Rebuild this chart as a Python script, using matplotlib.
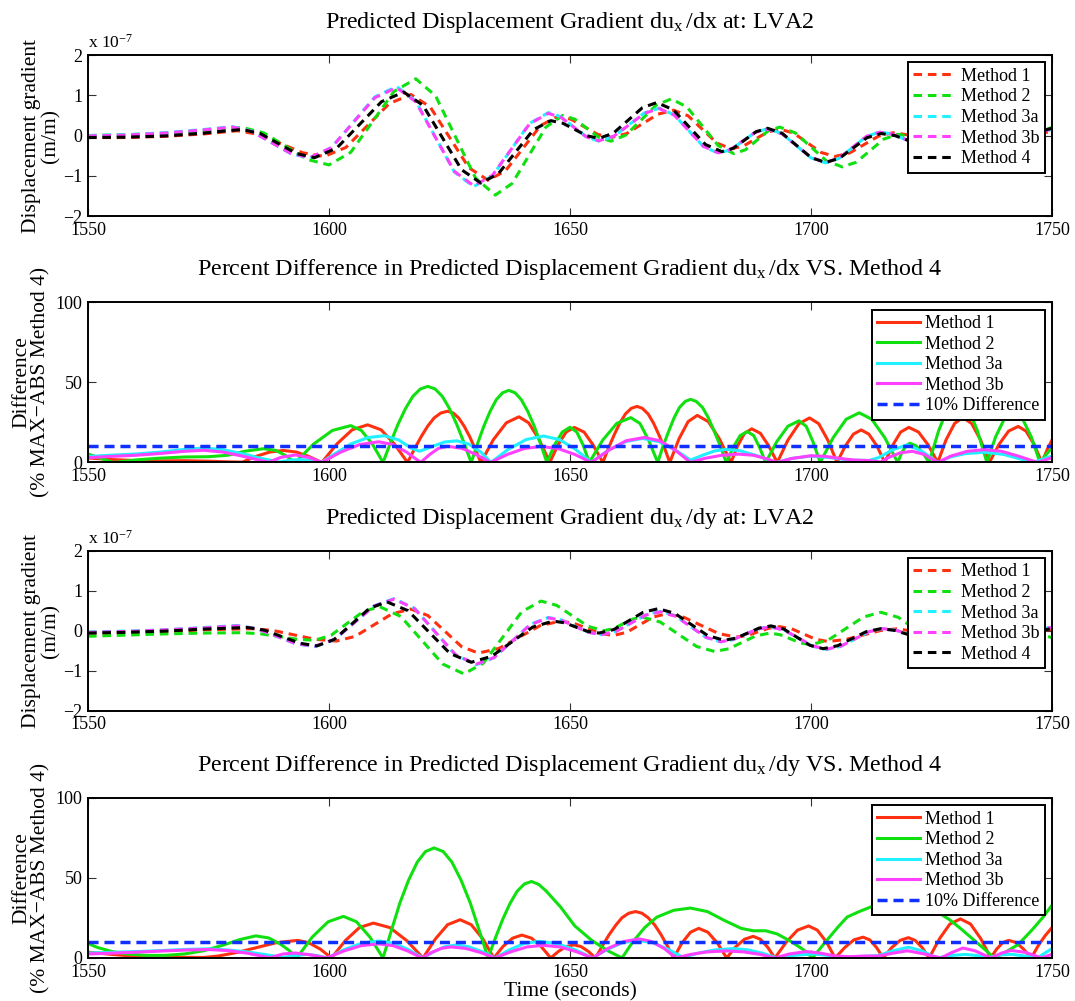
import matplotlib
matplotlib.use("Agg")
import matplotlib.pyplot as plt

plt.rcParams['font.family'] = ['Liberation Serif', 'DejaVu Serif']
plt.rcParams['mathtext.fontset'] = 'custom'
plt.rcParams['mathtext.rm'] = 'Liberation Serif'
plt.rcParams['mathtext.it'] = 'Liberation Serif:italic'
plt.rcParams['axes.unicode_minus'] = True

# ---------------- data ----------------
time_ticks = [1550, 1600, 1650, 1700, 1750]
grad_ticks = [-2, -1, 0, 1, 2]
pct_ticks = [0, 50, 100]
threshold = 10

method_names = ['Method 1', 'Method 2', 'Method 3a', 'Method 3b', 'Method 4']

# du_x/dx (units of 1e-7 m/m): (time, value)
dx_m1 = [(1550,-0.05),(1558,-0.05),(1566,-0.02),(1574,0.04),(1581,0.12),(1585.5,0.027),(1590,-0.2),(1594.5,-0.427),(1599,-0.52),(1603.5,-0.295),(1608,0.25),(1612.5,0.795),(1617,1.02),(1621,0.709),(1625,-0.045),(1629,-0.799),(1633,-1.11),(1636.6,-0.878),(1640.25,-0.315),(1643.9,0.248),(1647.5,0.48),(1650.25,0.403),(1653,0.215),(1655.75,0.027),(1658.5,-0.05),(1661.75,0.049),(1665,0.29),(1668.25,0.531),(1671.5,0.63),(1674.5,0.49),(1677.5,0.15),(1680.5,-0.19),(1683.5,-0.33),(1686,-0.258),(1688.5,-0.085),(1691,0.088),(1693.5,0.16),(1696.4,0.061),(1699.25,-0.18),(1702.1,-0.421),(1705,-0.52),(1708,-0.434),(1711,-0.225),(1714,-0.016),(1717,0.07),(1719.75,0.023),(1722.5,-0.09),(1725.25,-0.203),(1728,-0.25),(1730.75,-0.196),(1733.5,-0.065),(1736.25,0.066),(1739,0.12),(1742,0.07),(1745,0.02),(1750,0.1)]
dx_m2 = [(1550,0.0),(1558,0.02),(1566,0.06),(1574,0.12),(1582,0.2),(1586.5,0.064),(1591,-0.265),(1595.5,-0.594),(1600,-0.73),(1604.5,-0.418),(1609,0.34),(1613.5,1.098),(1618,1.41),(1622.1,0.988),(1626.25,-0.035),(1630.4,-1.058),(1634.5,-1.48),(1638,-1.19),(1641.5,-0.49),(1645,0.21),(1648.5,0.5),(1651,0.407),(1653.5,0.18),(1656,-0.047),(1658.5,-0.14),(1661.6,0.013),(1664.75,0.385),(1667.9,0.757),(1671,0.91),(1674.25,0.711),(1677.5,0.23),(1680.75,-0.251),(1684,-0.45),(1686.4,-0.354),(1688.75,-0.12),(1691.1,0.114),(1693.5,0.21),(1696.75,0.065),(1700,-0.285),(1703.25,-0.635),(1706.5,-0.78),(1709.4,-0.662),(1712.25,-0.375),(1715.1,-0.088),(1718,0.03),(1720.75,-0.025),(1723.5,-0.16),(1726.25,-0.295),(1729,-0.35),(1731.75,-0.284),(1734.5,-0.125),(1737.25,0.034),(1740,0.1),(1742,0.06),(1744,0.02),(1747,0.08),(1750,0.2)]
dx_m3a = [(1550,0.0),(1558,0.02),(1566,0.07),(1574,0.15),(1580,0.22),(1584,0.106),(1588,-0.17),(1592,-0.446),(1596,-0.56),(1600.5,-0.3),(1605,0.33),(1609.5,0.96),(1614,1.22),(1618,0.856),(1622,-0.025),(1626,-0.906),(1630,-1.27),(1633.9,-1.0),(1637.75,-0.35),(1641.6,0.3),(1645.5,0.57),(1648.1,0.466),(1650.75,0.215),(1653.4,-0.036),(1656,-0.14),(1659.1,-0.02),(1662.25,0.27),(1665.4,0.56),(1668.5,0.68),(1671.6,0.516),(1674.65,0.12),(1677.7,-0.276),(1680.8,-0.44),(1683.35,-0.35),(1685.9,-0.135),(1688.45,0.08),(1691,0.17),(1694,0.046),(1697,-0.255),(1700,-0.556),(1703,-0.68),(1705.8,-0.568),(1708.65,-0.295),(1711.5,-0.022),(1714.3,0.09),(1717,0.033),(1719.7,-0.105),(1722.3,-0.243),(1725,-0.3),(1727.75,-0.234),(1730.5,-0.075),(1733.25,0.084),(1736,0.15),(1739,0.085),(1742,0.02),(1746,0.08),(1750,0.15)]
dx_m3b = [(1550,-0.01),(1558,0.01),(1566,0.06),(1574,0.14),(1580,0.21),(1584,0.1),(1588,-0.17),(1592,-0.44),(1596,-0.55),(1600.5,-0.3),(1605,0.32),(1609.5,0.94),(1614,1.19),(1618,0.84),(1622,-0.03),(1626,-0.89),(1630,-1.25),(1633.9,-0.99),(1637.75,-0.35),(1641.6,0.29),(1645.5,0.55),(1648.1,0.455),(1650.75,0.21),(1653.4,-0.035),(1656,-0.13),(1659.1,-0.015),(1662.25,0.265),(1665.4,0.55),(1668.5,0.67),(1671.6,0.51),(1674.65,0.12),(1677.7,-0.27),(1680.8,-0.43),(1683.35,-0.345),(1685.9,-0.13),(1688.45,0.08),(1691,0.16),(1694,0.04),(1697,-0.25),(1700,-0.545),(1703,-0.67),(1705.8,-0.56),(1708.65,-0.29),(1711.5,-0.02),(1714.3,0.085),(1717,0.03),(1719.7,-0.1),(1722.3,-0.235),(1725,-0.29),(1727.75,-0.227),(1730.5,-0.07),(1733.25,0.08),(1736,0.14),(1739,0.08),(1742,0.02),(1746,0.08),(1750,0.15)]
dx_m4 = [(1550,-0.05),(1558,-0.04),(1566,-0.01),(1574,0.06),(1579,0.12),(1582,0.15),(1585.75,0.048),(1589.5,-0.2),(1593.25,-0.448),(1597,-0.55),(1601.6,-0.312),(1606.25,0.265),(1610.9,0.842),(1615.5,1.08),(1619.5,0.75),(1623.5,-0.05),(1627.5,-0.85),(1631.5,-1.18),(1635.1,-0.954),(1638.75,-0.405),(1642.4,0.144),(1646,0.37),(1648.5,0.306),(1651,0.15),(1653.5,-0.006),(1656,-0.07),(1659,0.06),(1662,0.375),(1665,0.69),(1668,0.82),(1671.4,0.642),(1674.75,0.21),(1678.1,-0.222),(1681.5,-0.4),(1683.9,-0.315),(1686.25,-0.11),(1688.6,0.095),(1691,0.18),(1694,0.056),(1697,-0.245),(1700,-0.546),(1703,-0.67),(1705.9,-0.565),(1708.75,-0.31),(1711.6,-0.055),(1714.5,0.05),(1717.4,-0.001),(1720.25,-0.125),(1723.1,-0.249),(1726,-0.3),(1728.75,-0.239),(1731.5,-0.09),(1734.25,0.059),(1737,0.12),(1738.5,0.1),(1740,0.06),(1741.5,0.02),(1743,0.0),(1745,0.03),(1747,0.09),(1750,0.18)]

# du_x/dy (units of 1e-7 m/m)
dy_m1 = [(1550,-0.06),(1558,-0.05),(1566,-0.02),(1574,0.02),(1584,0.05),(1588.4,0.005),(1592.75,-0.105),(1597.1,-0.215),(1601.5,-0.26),(1605.4,-0.143),(1609.25,0.14),(1613.1,0.423),(1617,0.54),(1620.5,0.379),(1624,-0.01),(1627.5,-0.399),(1631,-0.56),(1635.25,-0.443),(1639.5,-0.16),(1643.75,0.123),(1648,0.24),(1650.75,0.187),(1653.5,0.06),(1656.25,-0.067),(1659,-0.12),(1661.75,-0.041),(1664.5,0.15),(1667.25,0.341),(1670,0.42),(1673.6,0.335),(1677.25,0.13),(1680.9,-0.075),(1684.5,-0.16),(1686.75,-0.122),(1689,-0.03),(1691.25,0.062),(1693.5,0.1),(1696,0.046),(1698.5,-0.085),(1701,-0.216),(1703.5,-0.27),(1707.1,-0.223),(1710.75,-0.11),(1714.4,0.003),(1718,0.05),(1723.5,-0.075),(1729,-0.2),(1734,-0.05),(1739,0.1),(1745,0.0),(1750,0.03)]
dy_m2 = [(1550,-0.14),(1558,-0.11),(1566,-0.08),(1574,-0.06),(1582,-0.05),(1585.75,-0.078),(1589.5,-0.145),(1593.25,-0.212),(1597,-0.24),(1600.4,-0.117),(1603.75,0.18),(1607.1,0.477),(1610.5,0.6),(1614.9,0.355),(1619.25,-0.24),(1623.6,-0.835),(1628,-1.08),(1632,-0.814),(1636,-0.17),(1640,0.474),(1644,0.74),(1647.25,0.632),(1650.5,0.37),(1653.75,0.108),(1657,0.0),(1659,0.05),(1661,0.17),(1663,0.29),(1665,0.34),(1668.75,0.214),(1672.5,-0.09),(1676.25,-0.394),(1680,-0.52),(1682.9,-0.453),(1685.75,-0.29),(1688.6,-0.127),(1691.5,-0.06),(1693.6,-0.102),(1695.75,-0.205),(1697.9,-0.308),(1700,-0.35),(1703.6,-0.232),(1707.25,0.055),(1710.9,0.342),(1714.5,0.46),(1718.1,0.334),(1721.75,0.03),(1725.4,-0.274),(1729,-0.4),(1734.5,-0.075),(1740,0.25),(1745,0.05),(1750,-0.18)]
dy_m3a = [(1550,-0.03),(1558,-0.01),(1566,0.02),(1574,0.08),(1581,0.13),(1585,0.053),(1589,-0.135),(1593,-0.323),(1597,-0.4),(1601.1,-0.225),(1605.25,0.2),(1609.4,0.625),(1613.5,0.8),(1617.75,0.559),(1622,-0.025),(1626.25,-0.609),(1630.5,-0.85),(1634.25,-0.678),(1638,-0.26),(1641.75,0.158),(1645.5,0.33),(1648.25,0.267),(1651,0.115),(1653.75,-0.037),(1656.5,-0.1),(1659.6,-0.015),(1662.65,0.19),(1665.7,0.395),(1668.8,0.48),(1671.9,0.369),(1675.05,0.1),(1678.2,-0.169),(1681.3,-0.28),(1683.85,-0.225),(1686.4,-0.09),(1688.95,0.045),(1691.5,0.1),(1694.4,0.017),(1697.35,-0.185),(1700.3,-0.387),(1703.2,-0.47),(1706.15,-0.394),(1709.1,-0.21),(1712.05,-0.026),(1715,0.05),(1717.6,0.01),(1720.25,-0.085),(1722.9,-0.18),(1725.5,-0.22),(1728.25,-0.17),(1731,-0.05),(1733.75,0.07),(1736.5,0.12),(1739.75,0.05),(1743,-0.02),(1750,0.08)]
dy_m3b = [(1550,-0.04),(1558,-0.02),(1566,0.02),(1574,0.07),(1581,0.12),(1585,0.05),(1589,-0.13),(1593,-0.32),(1597,-0.39),(1601.1,-0.22),(1605.25,0.2),(1609.4,0.62),(1613.5,0.79),(1617.75,0.55),(1622,-0.03),(1626.25,-0.6),(1630.5,-0.84),(1634.25,-0.67),(1638,-0.26),(1641.75,0.15),(1645.5,0.32),(1648.25,0.26),(1651,0.11),(1653.75,-0.04),(1656.5,-0.1),(1659.6,-0.015),(1662.65,0.19),(1665.7,0.39),(1668.8,0.47),(1671.9,0.36),(1675.05,0.1),(1678.2,-0.165),(1681.3,-0.275),(1683.85,-0.22),(1686.4,-0.09),(1688.95,0.04),(1691.5,0.095),(1694.4,0.015),(1697.35,-0.18),(1700.3,-0.38),(1703.2,-0.46),(1706.15,-0.39),(1709.1,-0.205),(1712.05,-0.025),(1715,0.05),(1717.6,0.01),(1720.25,-0.08),(1722.9,-0.175),(1725.5,-0.215),(1728.25,-0.165),(1731,-0.05),(1733.75,0.07),(1736.5,0.115),(1739.75,0.05),(1743,-0.02),(1750,0.08)]
dy_m4 = [(1550,-0.06),(1558,-0.04),(1566,-0.01),(1574,0.04),(1583,0.08),(1586.6,0.013),(1590.25,-0.15),(1593.9,-0.313),(1597.5,-0.38),(1601.1,-0.219),(1604.75,0.17),(1608.4,0.559),(1612,0.72),(1616.4,0.5),(1620.75,-0.035),(1625.1,-0.57),(1629.5,-0.79),(1633.75,-0.64),(1638,-0.275),(1642.25,0.09),(1646.5,0.24),(1648.9,0.196),(1651.25,0.09),(1653.6,-0.016),(1656,-0.06),(1659.1,0.029),(1662.15,0.245),(1665.2,0.46),(1668.3,0.55),(1671.7,0.435),(1675.15,0.155),(1678.6,-0.125),(1682,-0.24),(1684.4,-0.187),(1686.85,-0.06),(1689.3,0.067),(1691.7,0.12),(1694.4,0.037),(1697.1,-0.165),(1699.8,-0.367),(1702.5,-0.45),(1705.5,-0.377),(1708.5,-0.2),(1711.5,-0.023),(1714.5,0.05),(1717.4,0.006),(1720.25,-0.1),(1723.1,-0.206),(1726,-0.25),(1728.75,-0.202),(1731.5,-0.085),(1734.25,0.032),(1737,0.08),(1740.5,0.015),(1744,-0.05),(1750,0.05)]

# percent difference du_x/dx vs Method 4
pdx_m1 = [(1550,2.8),(1555,1.8),(1560,1.2),(1565,1.0),(1570,1.1),(1575,0.8),(1579,0.4),(1582,0.2),(1584.8,3.75),(1587.7,6.5),(1590.5,7.5),(1593.2,6.5),(1595.8,3.75),(1598.5,0),(1601.7,11.75),(1604.8,20.4),(1608,23.5),(1610.8,20.4),(1613.5,11.75),(1616.3,0),(1617.7,8.3),(1619.1,16),(1620.45,22.6),(1621.8,27.8),(1623.2,30.9),(1624.6,32),(1625.75,30.9),(1626.9,27.8),(1628.05,22.6),(1629.2,16),(1630.35,8.3),(1631.5,0),(1634.1,14.25),(1636.8,24.8),(1639.4,28.5),(1641.4,24.8),(1643.6,14.25),(1645.8,0),(1647.5,10.9),(1649.2,19),(1650.9,21.9),(1652.9,19),(1654.8,10.9),(1656.8,0),(1658,9.1),(1659.2,17.5),(1660.35,24.7),(1661.5,30.3),(1662.7,33.8),(1663.9,35),(1665,33.8),(1666.2,30.3),(1667.3,24.7),(1668.4,17.5),(1669.6,9.1),(1670.7,0),(1672.6,14.7),(1674.5,25.5),(1676.4,29.4),(1678.7,25.5),(1681,14.7),(1683.4,0),(1684.8,10.5),(1686.2,18.2),(1687.7,21),(1689.5,18.2),(1691.2,10.5),(1693,0),(1695.2,13.9),(1697.5,24.2),(1699.7,27.8),(1701.6,24.2),(1703.5,13.9),(1705.4,0),(1707.1,10.2),(1708.8,17.7),(1710.4,20.3),(1712,17.7),(1713.7,10.2),(1715.3,0),(1717,11),(1718.6,19),(1720.3,21.9),(1722.3,19),(1724.3,11),(1726.3,0),(1728,14),(1729.8,24.4),(1731.5,28),(1733.3,24.4),(1735.2,14),(1737,0),(1739,11.25),(1741,19.6),(1743,22.5),(1744.6,19.6),(1746.3,11.25),(1747.9,0),(1749,8),(1750,14)]
pdx_m2 = [(1550,5.3),(1552.5,2.7),(1555.3,0),(1560,1.6),(1565,2.7),(1570,3.4),(1575,3.6),(1579,4.5),(1582.5,7),(1586.4,8.6),(1589,7.5),(1591,4.3),(1593,0),(1596.8,11.5),(1600.7,20),(1604.5,23),(1606.7,20),(1609,11.5),(1611.2,0),(1612.75,12.3),(1614.3,23.75),(1615.85,33.6),(1617.4,41.3),(1618.95,45.9),(1620.5,47.5),(1622,45.9),(1623.5,41.3),(1625,33.6),(1626.5,23.75),(1628,12.3),(1629.5,0),(1630.8,11.65),(1632.1,22.5),(1633.4,31.8),(1634.7,39.2),(1636,43.5),(1637.3,45),(1638.6,43.5),(1639.9,39.2),(1641.25,31.8),(1642.6,22.5),(1643.9,11.65),(1645.2,0),(1646.8,11),(1648.4,19),(1650,22),(1651.4,19),(1652.7,11),(1654,0),(1656.8,14),(1659.7,24.4),(1662.6,28),(1664.5,24.4),(1666.3,14),(1668.2,0),(1669.3,10.2),(1670.5,19.7),(1671.6,27.9),(1672.7,34.3),(1673.9,38.1),(1675,39.4),(1676.2,38.1),(1677.5,34.3),(1678.7,27.9),(1679.9,19.7),(1681.2,10.2),(1682.4,0),(1683.9,9.6),(1685.3,16.8),(1686.8,19.3),(1688.1,16.8),(1689.3,9.6),(1690.6,0),(1692.9,13),(1695.2,22.6),(1697.5,26),(1699,22.6),(1700.4,13),(1701.9,0),(1704.6,15.5),(1707.3,27),(1710,31),(1712.6,27),(1715.3,15.5),(1718,0),(1718.8,6),(1719.7,10.4),(1720.5,12),(1721.8,10.4),(1723.2,6),(1724.5,0),(1726.5,20),(1728.5,34.8),(1730.5,40),(1732.5,34.8),(1734.5,20),(1736.5,0),(1738.3,16),(1740.2,27.8),(1742,32),(1743.8,27.8),(1745.7,16),(1747.5,0),(1748.8,5),(1750,9)]
pdx_m3a = [(1550,3.7),(1555,4.6),(1560,5.3),(1565,6.5),(1570,8.2),(1574,9.0),(1578,8.0),(1582,5.5),(1586,2.5),(1589.6,0.3),(1592,1.5),(1594.5,1.8),(1596.5,1.0),(1598.4,0),(1601.5,6),(1604.5,11.5),(1608,15.5),(1611.5,16.7),(1614.5,14),(1617,9),(1618.8,7),(1621,9.5),(1624,12.8),(1626.5,13.5),(1629,11.5),(1631.5,6.5),(1633.6,0),(1637.2,8.25),(1640.9,14.3),(1644.5,16.5),(1647.8,14.3),(1651.1,8.25),(1654.4,0),(1657.9,7.5),(1661.5,13),(1665,15),(1668.5,13),(1672,7.5),(1675,1.5),(1677.5,4.5),(1680,7.2),(1682.5,8.2),(1685.5,7.2),(1689,4),(1692.8,0),(1696,2.5),(1700,4),(1704,3),(1708,1.5),(1712,1.2),(1714,3),(1717,8),(1720,11),(1723,7),(1726.3,0),(1729,3.5),(1732,5.5),(1736,6.4),(1740,5),(1743,2.5),(1746,0),(1748,2),(1750,4)]
pdx_m3b = [(1550,3.0),(1555,3.8),(1560,4.5),(1565,5.6),(1570,7.0),(1574,7.6),(1578,6.5),(1582,4.0),(1585,1.8),(1587.5,0.2),(1590,3.2),(1593,4.7),(1596,3.0),(1598.5,0),(1602.4,6.45),(1606.4,11.2),(1610.3,12.9),(1613.2,11.2),(1616.1,6.45),(1619,0),(1620.9,5),(1622.7,8.8),(1624.6,10.1),(1627.6,8.8),(1630.5,5),(1633.5,0),(1637,5),(1640.5,8.7),(1644,10),(1647.5,8.7),(1651,5),(1654.4,0),(1658.1,7.8),(1661.7,13.6),(1665.4,15.6),(1668.6,13.6),(1671.8,7.8),(1675,0),(1678,2.6),(1681.5,4.5),(1685,5.2),(1688,4.5),(1690.5,2.6),(1693,0),(1696,2.5),(1700,4.2),(1703,3.8),(1706,2.5),(1709,1.5),(1712,1.2),(1714.5,0.3),(1716,3),(1718.5,6),(1721,7),(1723.5,5),(1726.3,0),(1729,4),(1732.5,7),(1736,8),(1739.5,7),(1743,4),(1747,0),(1750,3)]

# percent difference du_x/dy vs Method 4
pdy_m1 = [(1550,3.6),(1555,2.2),(1560,1.0),(1565,0.3),(1570,0.4),(1574,0.3),(1577,1.2),(1581,3.5),(1585,6.5),(1589,9.5),(1593.5,11),(1595.8,9.5),(1598.2,5.5),(1600.5,0),(1603.4,10.9),(1606.3,19),(1609.2,21.8),(1612.6,19),(1616.1,10.9),(1619.5,0),(1622.1,12),(1624.6,20.8),(1627.2,23.9),(1629.5,20.8),(1631.9,12),(1634.2,0),(1636.1,7.2),(1638.1,12.4),(1640,14.3),(1642,12.4),(1644,7.2),(1646,0),(1647.6,4.1),(1649.2,7.1),(1650.8,8.2),(1652.3,7.1),(1653.8,4.1),(1655.3,0),(1656.7,7.5),(1658.1,14.5),(1659.5,20.5),(1660.8,25.2),(1662.2,28),(1663.6,29),(1664.9,28),(1666.2,25.2),(1667.6,20.5),(1668.9,14.5),(1670.2,7.5),(1671.5,0),(1673.2,9.25),(1675,16.1),(1676.7,18.5),(1678.6,16.1),(1680.6,9.25),(1682.5,0),(1684.3,6.75),(1686.2,11.7),(1688,13.5),(1689.5,11.7),(1691,6.75),(1692.5,0),(1694.9,10),(1697.2,17.4),(1699.5,20),(1701.3,17.4),(1703.2,10),(1705,0),(1707,6.5),(1708.9,11.3),(1710.8,13),(1712.2,11.3),(1713.6,6.5),(1715,0),(1716.7,6.35),(1718.5,11),(1720.2,12.7),(1721.6,11),(1723.1,6.35),(1724.5,0),(1726.7,12.2),(1728.8,21.2),(1731,24.4),(1733.1,21.2),(1735.2,12.2),(1737.3,0),(1738.5,5.5),(1739.8,9.6),(1741,11),(1742.6,9.6),(1744.1,5.5),(1745.7,0),(1747.2,8),(1748.6,14),(1750,19)]
pdy_m2 = [(1550,9),(1552,6.5),(1555,4),(1558,2.5),(1562,1.6),(1566,1.6),(1570,2.5),(1574,4.5),(1578,8),(1581.5,11.5),(1584.8,13.8),(1587.5,12.5),(1590,8.5),(1591.8,4.5),(1593.3,0),(1596.5,13),(1599.8,22.6),(1603,26),(1605.7,22.6),(1608.5,13),(1611.2,0),(1613.0,17.8),(1614.7,34.4),(1616.5,48.6),(1618.3,59.9),(1620.0,66.5),(1621.8,68.8),(1623.7,66.5),(1625.5,59.9),(1627.4,48.6),(1629.3,34.4),(1631.1,17.8),(1633,0),(1634.5,12.4),(1636,23.9),(1637.5,33.8),(1639,41.6),(1640.5,46.2),(1642,47.8),(1643.5,46),(1645,42),(1648,32),(1651,20),(1654.5,11),(1657.9,4.4),(1660.8,0),(1663,10),(1665.5,19),(1668,25.5),(1671.5,29.8),(1675,31.2),(1678.5,29),(1682,23.5),(1685.5,18.5),(1688,17),(1690.6,17),(1693,15),(1696,10),(1698.5,5),(1700.3,0),(1703,10),(1705.5,19),(1707.5,25.6),(1710,29),(1712.5,32),(1716,36),(1720,38),(1724,33),(1728.7,24),(1731,18.5),(1733.5,12),(1736,5.5),(1738,0),(1740,3),(1743,8.4),(1746,18),(1748,25),(1750,33)]
pdy_m3a = [(1550,3.1),(1555,3.5),(1560,4.0),(1565,4.6),(1570,5.3),(1575,5.7),(1579,5.0),(1583,3.8),(1587,2.0),(1590.5,0.3),(1593,1.5),(1595.5,2.3),(1597.8,1.3),(1599.7,0),(1603.2,5.3),(1606.8,9.2),(1610.3,10.6),(1613.4,9.2),(1616.4,5.3),(1619.5,0),(1621.8,4),(1624,7),(1626.3,8.1),(1629,7),(1631.7,4),(1634.5,0),(1637.5,5.2),(1640.5,9),(1643.5,10.4),(1647.2,9),(1651,5.2),(1654.7,0),(1657.8,5.5),(1660.9,9.5),(1664,11),(1667.2,9.5),(1670.3,5.5),(1673.5,0.3),(1676.5,3),(1680,5),(1684,5.9),(1687,5),(1690,2.9),(1693,0),(1696,1.5),(1700.4,2.5),(1703,1.8),(1706,0.5),(1710,0.8),(1714,1.5),(1717,4.5),(1720.2,6.7),(1723,4.5),(1726,0),(1729,1.5),(1732,2.2),(1734.5,1.5),(1736.5,0),(1739,1.8),(1741.5,2.3),(1744.5,1.2),(1747,0),(1748.5,3),(1750,5.9)]
pdy_m3b = [(1550,2.5),(1555,3.0),(1560,3.6),(1565,4.3),(1570,4.9),(1575,5.3),(1579,4.6),(1583,3.0),(1586,1.2),(1587.8,0.2),(1590.5,2.5),(1593,3.1),(1596.5,1.8),(1599.5,0),(1603.1,4.4),(1606.7,7.7),(1610.3,8.8),(1613.3,7.7),(1616.3,4.4),(1619.3,0),(1621.3,3.45),(1623.3,6),(1625.3,6.9),(1628.3,6),(1631.4,3.45),(1634.4,0),(1637.8,3.95),(1641.1,6.9),(1644.5,7.9),(1647.9,6.9),(1651.3,3.95),(1654.7,0),(1657.9,6),(1661.2,10.3),(1664.4,11.9),(1666.9,10.3),(1669.5,6),(1672,0),(1675,2.2),(1678.5,3.8),(1682.4,4.4),(1686,3.8),(1689.5,2.2),(1692.5,0),(1695.5,2.5),(1699,4),(1702,3),(1705,1.2),(1708,0.8),(1711,1.2),(1714,1.2),(1717,3),(1720,4.5),(1723.5,2.5),(1727,0),(1729,3.1),(1731.5,6.2),(1734,4.5),(1737.3,0),(1739.5,3),(1741.5,4.7),(1744.5,3.5),(1747.8,0),(1750,2.3)]

# ---------------- style ----------------
colors = ['#ff3010', '#10e010', '#20f0ff', '#ff40ff', '#000000']
blue = '#1030ff'

fig = plt.figure(figsize=(10.75, 10.01), dpi=100)
positions = [
    [0.0819, 0.7842, 0.8967, 0.1608],
    [0.0819, 0.5380, 0.8967, 0.1600],
    [0.0819, 0.2900, 0.8967, 0.1599],
    [0.0819, 0.0430, 0.8967, 0.1598],
]
axes = [fig.add_axes(p) for p in positions]

def unzip(pairs):
    return [p[0] for p in pairs], [p[1] for p in pairs]

def style_axes(ax, yticks, ylim):
    ax.set_xlim(1550, 1750)
    ax.set_ylim(*ylim)
    ax.set_xticks(time_ticks)
    ax.set_yticks(yticks)
    ax.tick_params(direction='in', top=True, right=True, length=6, width=0.8,
                   labelsize=13, pad=4, color='#333333')
    for s in ax.spines.values():
        s.set_linewidth(1.4)

def add_legend(ax):
    leg = ax.legend(loc='upper right', fontsize=13, fancybox=False, framealpha=1,
                    edgecolor='black', borderpad=0.3, labelspacing=0.2,
                    handlelength=2.4, handletextpad=0.25, borderaxespad=0.4)
    leg.get_frame().set_linewidth(1.4)

sub = r'$_{\mathrm{x}}\,$'
titles = [
    'Predicted Displacement Gradient du' + sub + '/dx at: LVA2',
    'Percent Difference in Predicted Displacement Gradient du' + sub + '/dx VS. Method 4',
    'Predicted Displacement Gradient du' + sub + '/dy at: LVA2',
    'Percent Difference in Predicted Displacement Gradient du' + sub + '/dy VS. Method 4',
]

grad_sets = [[dx_m1, dx_m2, dx_m3a, dx_m3b, dx_m4], [dy_m1, dy_m2, dy_m3a, dy_m3b, dy_m4]]
pct_sets = [[pdx_m1, pdx_m2, pdx_m3a, pdx_m3b], [pdy_m1, pdy_m2, pdy_m3a, pdy_m3b]]

for k in range(2):
    ax = axes[2 * k]
    for series, c, name in zip(grad_sets[k], colors, method_names):
        t, v = unzip(series)
        ax.plot(t, v, color=c, lw=2.2, ls=(0, (2.8, 1.9)), label=name)
    style_axes(ax, grad_ticks, (-2, 2))
    ax.annotate(r'x 10$^{-7}$', xy=(0, 1), xycoords='axes fraction', xytext=(0, 5),
                textcoords='offset points', ha='left', va='baseline', fontsize=12.5)
    ax.set_ylabel('Displacement gradient\n(m/m)', fontsize=15.5, linespacing=1.0)
    ax.yaxis.set_label_coords(-0.029, 0.5)
    ax.set_title(titles[2 * k], fontsize=17.3, pad=19.5)
    add_legend(ax)

    ax = axes[2 * k + 1]
    for series, c, name in zip(pct_sets[k], colors, method_names[:4]):
        t, v = unzip(series)
        ax.plot(t, v, color=c, lw=2.2, label=name)
    ax.axhline(threshold, color=blue, lw=2.5, ls=(0, (2.9, 1.7)), label='10% Difference')
    style_axes(ax, pct_ticks, (0, 100))
    ax.set_ylabel('Difference\n(% MAX\u2212ABS Method 4)', fontsize=15.5, linespacing=1.0)
    ax.yaxis.set_label_coords(-0.039, 0.5)
    ax.set_title(titles[2 * k + 1], fontsize=17.3, pad=19.5)
    add_legend(ax)

axes[3].set_xlabel('Time (seconds)', fontsize=15.5, labelpad=1)

fig.savefig('out.png', dpi=100)
